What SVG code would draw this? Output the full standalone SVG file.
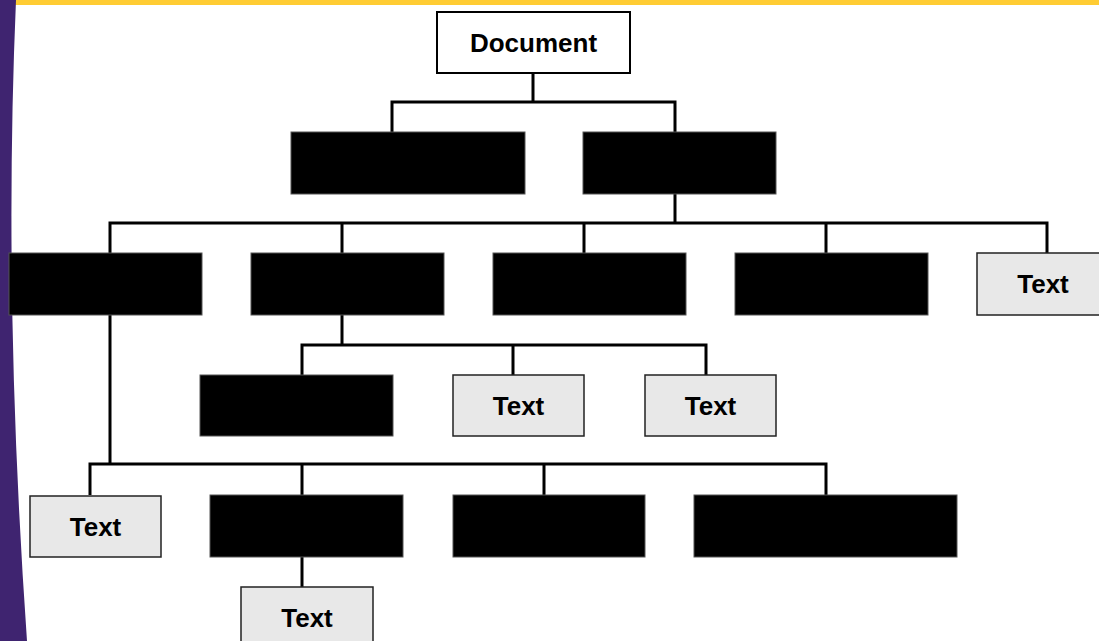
<svg xmlns="http://www.w3.org/2000/svg" width="1099" height="641" viewBox="0 0 1099 641">
<style>
.blk{fill:#000;stroke:#555;stroke-width:1}
.lt{fill:#e8e8e8;stroke:#222;stroke-width:1.5}
.wh{fill:#fff;stroke:#000;stroke-width:2}
.lbl{font-family:"Liberation Sans",Arial,sans-serif;font-weight:bold;font-size:26px;fill:#000;text-anchor:middle;dominant-baseline:central}
.con{fill:none;stroke:#000;stroke-width:3}
</style>
<rect x="0" y="0" width="1099" height="641" fill="#fff"/>
<rect x="0" y="0" width="1099" height="5" fill="#FFCC33"/>
<path d="M0,0 L16,0 Q3,300 27,641 L0,641 Z" fill="#3F2470"/>
<g id="connectors" class="con">
<path d="M533,73 V102 M392,132 V102 H675 V132"/>
<path d="M675,194 V223 M110,253 V223 H1047 V253 M342,223 V253 M584,223 V253 M826,223 V253"/>
<path d="M342,315 V345 M302,375 V345 H706 V375 M513,345 V375"/>
<path d="M110,253 V464 M90,495 V464 H826 V495 M302,464 V495 M544,464 V495"/>
<path d="M302,557 V587"/>
</g>
<g id="n-document"><rect class="wh" x="437" y="12" width="193" height="61"/><text class="lbl" x="533.5" y="43">Document</text></g>
<g id="n-r1a"><rect class="blk" x="291" y="132" width="234" height="62"/></g>
<g id="n-r1b"><rect class="blk" x="583" y="132" width="193" height="62"/></g>
<g id="n-r2a"><rect class="blk" x="9" y="253" width="193" height="62"/></g>
<g id="n-r2b"><rect class="blk" x="251" y="253" width="193" height="62"/></g>
<g id="n-r2c"><rect class="blk" x="493" y="253" width="193" height="62"/></g>
<g id="n-r2d"><rect class="blk" x="735" y="253" width="193" height="62"/></g>
<g id="n-r2e"><rect class="lt" x="977" y="253" width="130" height="62"/><text class="lbl" x="1043" y="284">Text</text></g>
<g id="n-r3a"><rect class="blk" x="200" y="375" width="193" height="61"/></g>
<g id="n-r3b"><rect class="lt" x="453" y="375" width="131" height="61"/><text class="lbl" x="518.5" y="406">Text</text></g>
<g id="n-r3c"><rect class="lt" x="645" y="375" width="131" height="61"/><text class="lbl" x="710.5" y="406">Text</text></g>
<g id="n-r4a"><rect class="lt" x="30" y="496" width="131" height="61"/><text class="lbl" x="95.5" y="527">Text</text></g>
<g id="n-r4b"><rect class="blk" x="210" y="495" width="193" height="62"/></g>
<g id="n-r4c"><rect class="blk" x="453" y="495" width="192" height="62"/></g>
<g id="n-r4d"><rect class="blk" x="694" y="495" width="263" height="62"/></g>
<g id="n-r5a"><rect class="lt" x="241" y="587" width="132" height="62"/><text class="lbl" x="307" y="618">Text</text></g>
</svg>
